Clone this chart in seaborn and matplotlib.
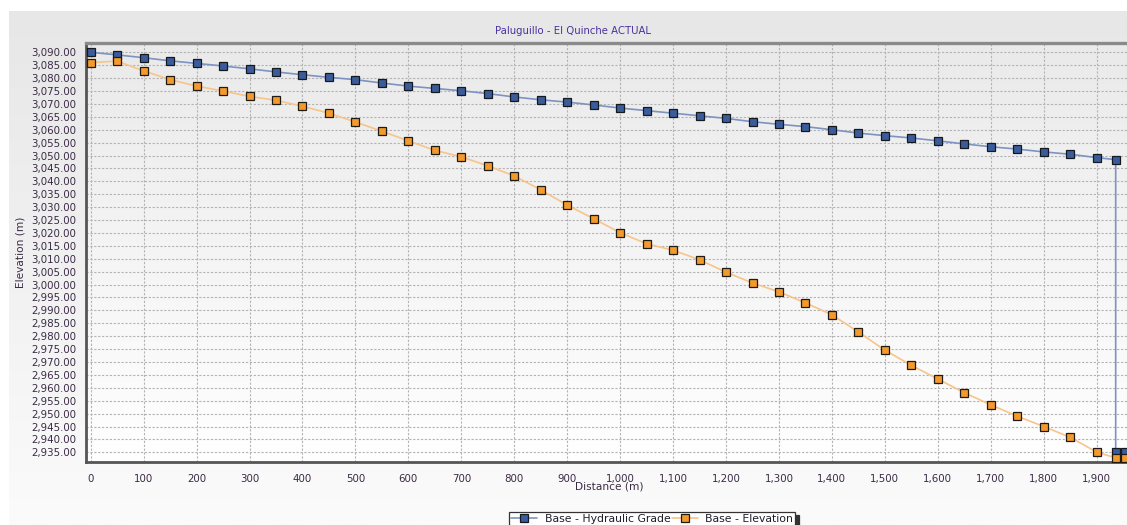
import numpy as np
import pandas as pd
import matplotlib
matplotlib.use("Agg")
import matplotlib.pyplot as plt
from matplotlib.ticker import MultipleLocator, FuncFormatter
from matplotlib.colors import LinearSegmentedColormap
import seaborn as sns

# ---- profile data -------------------------------------------------------
stations = [0, 50, 100, 150, 200, 250, 300, 350, 400, 450, 500, 550, 600, 650,
            700, 750, 800, 850, 900, 950, 1000, 1050, 1100, 1150, 1200, 1250,
            1300, 1350, 1400, 1450, 1500, 1550, 1600, 1650, 1700, 1750, 1800,
            1850, 1900]

grade_dist = stations + [1936, 1936, 1954]
hydraulic_grade = [3090.0, 3089.0, 3087.9, 3086.7, 3085.7, 3084.7, 3083.6,
                   3082.4, 3081.3, 3080.3, 3079.4, 3078.1, 3076.9, 3076.0,
                   3075.1, 3074.0, 3072.7, 3071.6, 3070.7, 3069.6, 3068.4,
                   3067.4, 3066.4, 3065.4, 3064.4, 3063.1, 3062.1, 3061.2,
                   3060.0, 3058.7, 3057.7, 3056.8, 3055.7, 3054.5, 3053.4,
                   3052.5, 3051.4, 3050.5, 3049.2, 3048.4, 2935.2, 2935.2]

elev_dist = stations + [1936, 1954]
elevation = [3086.0, 3086.6, 3082.8, 3079.4, 3076.9, 3075.0, 3072.9, 3071.4,
             3069.1, 3066.4, 3063.0, 3059.4, 3055.7, 3052.0, 3049.5, 3046.0,
             3042.1, 3036.7, 3030.8, 3025.5, 3020.1, 3015.8, 3013.3, 3009.6,
             3004.8, 3000.6, 2997.2, 2992.9, 2988.3, 2981.6, 2974.6, 2968.7,
             2963.4, 2958.1, 2953.4, 2949.0, 2945.0, 2940.8, 2935.1, 2932.8,
             2932.8]

series_names = ["Base - Hydraulic Grade", "Base - Elevation"]
title = "Paluguillo - El Quinche ACTUAL"
x_label = "Distance (m)"
y_label = "Elevation (m)"

grade_df = pd.DataFrame({"Distance": grade_dist, "Value": hydraulic_grade})
elev_df = pd.DataFrame({"Distance": elev_dist, "Value": elevation})

# ---- styling ------------------------------------------------------------
sns.set_theme(style="white")
plt.rcParams["font.family"] = ["DejaVu Sans"]
text_col = "#3b2a45"
blue = "#3b5c9b"
blue_line = "#7d93c1"
orange = "#f39a2e"
orange_line = "#f7c48a"

W, H = 1127, 525
fig = plt.figure(figsize=(W / 100, H / 100), dpi=100)
fig.patch.set_facecolor("white")

# outer panel with a soft vertical gradient
panel = fig.add_axes([9 / W, 0, 1 - 9 / W, 1 - 11 / H], zorder=-20)
panel_cmap = LinearSegmentedColormap.from_list("panel", ["#e7e7e7", "#fbfbfb"])
panel.imshow(np.linspace(0, 1, 256).reshape(-1, 1), cmap=panel_cmap,
             aspect="auto", extent=[0, 1, 0, 1])
panel.set_axis_off()

# plot area
left, right, top, bottom = 86, 1132, 43.3, 461.7
pos = [left / W, 1 - bottom / H, (right - left) / W, (bottom - top) / H]

plot_bg = fig.add_axes(pos, zorder=-10)
bg_cmap = LinearSegmentedColormap.from_list("plotbg", ["#eaeaea", "#ffffff"])
plot_bg.imshow(np.linspace(0, 1, 256).reshape(-1, 1), cmap=bg_cmap,
               aspect="auto", extent=[0, 1, 0, 1])
plot_bg.set_axis_off()

ax = fig.add_axes(pos)
ax.set_facecolor("none")

sns.lineplot(data=grade_df, x="Distance", y="Value", ax=ax, sort=False,
             estimator=None, color=blue_line, linewidth=1.2, marker="s",
             markersize=5.4, markerfacecolor=blue, markeredgecolor="#15181f",
             markeredgewidth=0.9, label=series_names[0], zorder=4,
             clip_on=False)
sns.lineplot(data=elev_df, x="Distance", y="Value", ax=ax, sort=False,
             estimator=None, color=orange_line, linewidth=1.2, marker="s",
             markersize=5.4, markerfacecolor=orange, markeredgecolor="#1f1a12",
             markeredgewidth=0.9, label=series_names[1], zorder=5,
             clip_on=False)

ax.set_xlim(-8.9, 1966.8)
ax.set_ylim(2931.36, 3093.49)

ax.xaxis.set_major_locator(MultipleLocator(100))
ax.xaxis.set_minor_locator(MultipleLocator(25))
ax.yaxis.set_major_locator(MultipleLocator(5))
ax.yaxis.set_minor_locator(MultipleLocator(1))
ax.xaxis.set_major_formatter(FuncFormatter(lambda v, p: f"{v:,.0f}"))
ax.yaxis.set_major_formatter(FuncFormatter(lambda v, p: f"{v:,.2f}"))

ax.tick_params(axis="both", which="major", labelsize=7.4, colors="#6a6a6a",
               labelcolor=text_col, length=3, width=0.8, direction="out")
ax.tick_params(axis="x", which="major", pad=6)
ax.tick_params(axis="y", which="major", pad=4)
ax.tick_params(axis="both", which="minor", length=2, width=0.5,
               colors="#9a9a9a", direction="out")

ax.grid(True, which="major", color="#b3b3b3", linestyle=(0, (2, 1.5)),
        linewidth=0.8)
ax.set_axisbelow(True)

ax.spines["right"].set_visible(False)
ax.spines["top"].set_color("#8a8a8a")
ax.spines["top"].set_linewidth(2.4)
ax.spines["left"].set_color("#555555")
ax.spines["left"].set_linewidth(2.0)
ax.spines["bottom"].set_color("#555555")
ax.spines["bottom"].set_linewidth(2.0)

ax.set_xlabel(x_label, fontsize=7.6, color=text_col)
ax.set_ylabel(y_label, fontsize=7.6, color=text_col)
ax.xaxis.set_label_coords(0.5, -0.0485)
ax.yaxis.set_label_coords(-0.058, 0.5)

fig.text(573 / W, 1 - 31 / H, title, ha="center", va="center",
         fontsize=7.3, color="#4a30a0")

handles, labels = ax.get_legend_handles_labels()
ax.get_legend().remove()
leg = fig.legend(handles, labels, loc="upper left",
                 bbox_to_anchor=(509 / W, 1 - 512 / H), ncol=2,
                 fontsize=7.8, frameon=True, fancybox=False,
                 borderpad=0.2, handlelength=2.4, handletextpad=0.7,
                 columnspacing=0.1, borderaxespad=0,
                 shadow={"ox": 2.5, "oy": -2.5, "color": "#333333", "alpha": 1})
leg.get_frame().set_edgecolor("#333333")
leg.get_frame().set_linewidth(0.9)
leg.get_frame().set_facecolor("white")
for t in leg.get_texts():
    t.set_color("#1e1e2a")

fig.savefig("out.png", dpi=100)
